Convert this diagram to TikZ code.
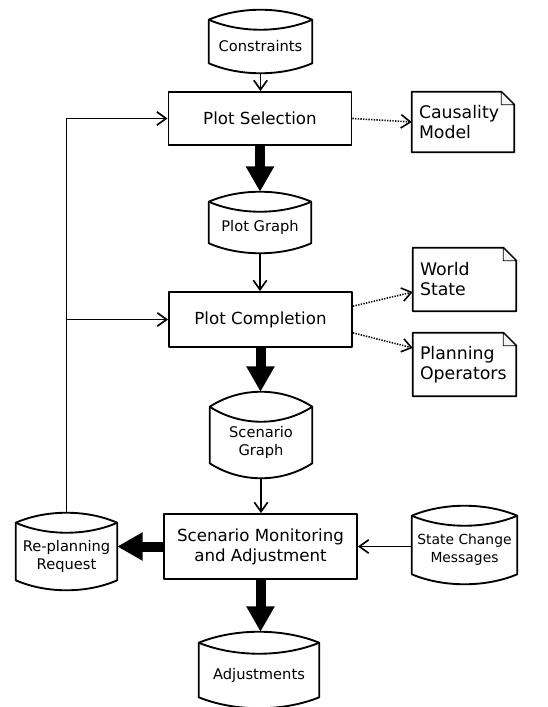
\documentclass[tikz,border=0pt]{standalone}
\usepackage{fontspec}
\setmainfont{DejaVu Sans}
\usetikzlibrary{arrows.meta,calc}
\tikzset{
  boxline/.style={draw, line width=1.4pt, line join=round},
  procbox/.style={boxline, rectangle, inner sep=2pt, align=center, font=\fontsize{12.5}{15}\selectfont},
  cylnode/.style={inner sep=0pt, align=center, font=\fontsize{11}{13.5}\selectfont},
  notenode/.style={inner xsep=5.25pt, inner ysep=0pt, align=left, font=\fontsize{13}{15}\selectfont},
  cylline/.style={line width=1.4pt, line join=round},
  foldline/.style={line width=0.6pt, fill=black!4},
  flow/.style={line width=1.25pt, -{Straight Barb[length=7pt,width=10pt]}},
  bigflow/.style={line width=7.5pt, -{Triangle[length=19pt,width=20pt]}},
  dotflow/.style={line width=1.2pt, dash pattern=on 1pt off 1pt, -{Straight Barb[length=7pt,width=10pt]}},
}
% cylinder outline around a node that spans the inner area; #2 = bulge (px)
\newcommand\cylshape[2]{%
  \pgfmathsetmacro\cylk{1.3333*#2}
  \coordinate (#1-tl) at ($(#1.north west)+(0,-#2)$);
  \coordinate (#1-tr) at ($(#1.north east)+(0,-#2)$);
  \coordinate (#1-top) at ($(#1.north)+(0,-2*#2)$);
  \coordinate (#1-bot) at ($(#1.south)+(0,#2)$);
  \draw[cylline] (#1-tl) .. controls ($(#1-tl)!0.3!(#1-tr)+(0,-\cylk)$) and ($(#1-tl)!0.7!(#1-tr)+(0,-\cylk)$) .. (#1-tr)
    -- (#1.south east) .. controls ($(#1.south west)!0.7!(#1.south east)+(0,\cylk)$) and ($(#1.south west)!0.3!(#1.south east)+(0,\cylk)$) .. (#1.south west) -- cycle;
  \draw[cylline] (#1-tl) .. controls ($(#1-tl)!0.3!(#1-tr)+(0,\cylk)$) and ($(#1-tl)!0.7!(#1-tr)+(0,\cylk)$) .. (#1-tr);
}
% note (folded corner) outline around a node
\newcommand\noteshape[1]{%
  \draw[boxline] (#1.north west) -- ($(#1.north east)+(-13,0)$) -- ($(#1.north east)+(0,13)$) -- (#1.south east) -- (#1.south west) -- cycle;
  \draw[foldline] ($(#1.north east)+(-13,0)$) -- ($(#1.north east)+(-13,13)$) -- ($(#1.north east)+(0,13)$) -- cycle;
}
\begin{document}
\begin{tikzpicture}[x=0.75pt, y=-0.75pt]
\useasboundingbox[fill=white] (0,0) rectangle (548,707);

% process boxes
\node[procbox, minimum width=137.25pt, minimum height=39.75pt] (ps) at (260,118.5) {Plot Selection};
\node[procbox, minimum width=137.25pt, minimum height=41.25pt] (pc) at (260.5,319.5) {Plot Completion};
\node[procbox, minimum width=144.75pt, minimum height=48.75pt] (sm) at (260.5,546.5) {Scenario Monitoring\\and Adjustment};

% data stores
\node[cylnode, minimum width=77.25pt, minimum height=24.75pt] (cons) at (260.5,46.5) {Constraints};
\cylshape{cons}{10}
\node[cylnode, minimum width=76.5pt, minimum height=23.25pt] (pg) at (260,227.5) {Plot Graph};
\cylshape{pg}{10}
\node[cylnode, minimum width=76.5pt, minimum height=30.75pt] (sg) at (261,442.5) {Scenario\\Graph};
\cylshape{sg}{15}
\node[cylnode, minimum width=75.75pt, minimum height=35.25pt] (rp) at (66.5,556.5) {Re-planning\\Request};
\cylshape{rp}{10}
\node[cylnode, minimum width=78.75pt, minimum height=36pt, font=\fontsize{10.4}{13.5}\selectfont] (sc) at (464.5,550) {State Change\\Messages};
\cylshape{sc}{10}
\node[cylnode, minimum width=90pt, minimum height=32.25pt] (adj) at (259,675.5) {Adjustments};
\cylshape{adj}{11}

% notes
\node[notenode, text width=66pt, minimum height=45pt] (cm) at (463,122) {Causality\\Model};
\noteshape{cm}
\node[notenode, text width=66.75pt, minimum height=47.25pt] (ws) at (464.5,279.5) {World\\State};
\noteshape{ws}
\node[notenode, text width=66.75pt, minimum height=47.25pt] (po) at (464.5,364.5) {Planning\\Operators};
\noteshape{po}

% main flow
\draw[flow] (cons-bot) -- (cons-bot |- ps.north);
\draw[bigflow] (ps.south) -- (ps.south |- pg-top);
\draw[flow] (pg-bot) -- (pg-bot |- pc.north);
\draw[bigflow] (pc.south) -- (pc.south |- sg-top);
\draw[flow] (sg-bot) -- (sg-bot |- sm.north);
\draw[bigflow] (sm.south) -- (sm.south |- adj-top);
\draw[bigflow] (sm.west) -- (sm.west -| rp.east);
\draw[flow] (sc.west |- sm.east) -- (sm.east);

% feedback loop
\draw[flow] (rp-top) |- (ps.west);
\draw[flow] (rp-top) |- (pc.west);

% dotted references
\draw[dotflow] (ps.east) -- (cm.west);
\draw[dotflow] ([yshift=10pt]pc.east) -- ([yshift=-9.4pt]ws.west);
\draw[dotflow] ([yshift=-10pt]pc.east) -- ([yshift=12.4pt]po.west);
\end{tikzpicture}
\end{document}
